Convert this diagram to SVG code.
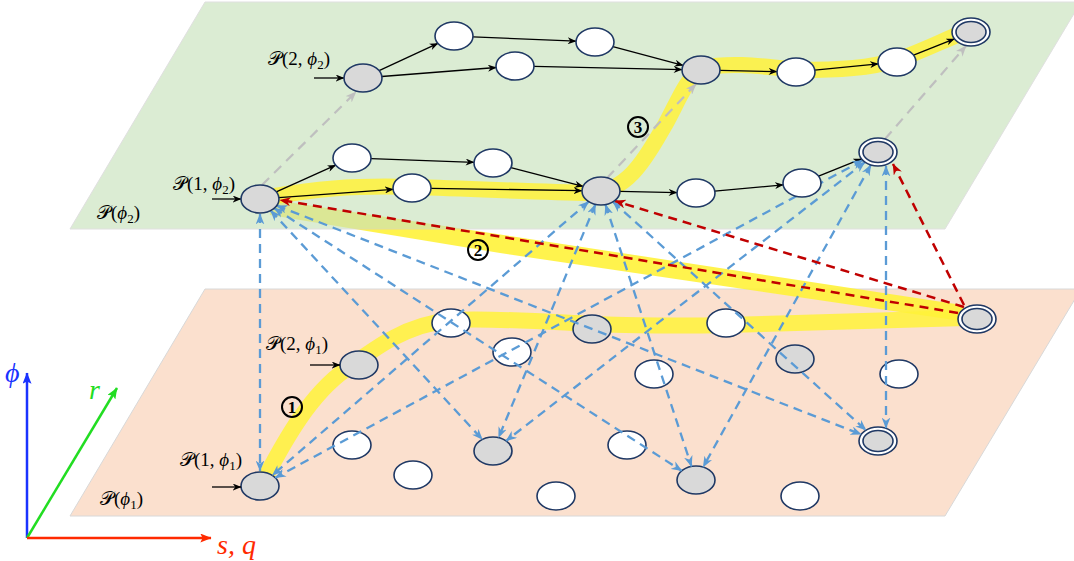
<svg xmlns="http://www.w3.org/2000/svg" width="1074" height="561" viewBox="0 0 1074 561">
<style>
.n{fill:#ffffff;stroke:#1f3864;stroke-width:1.6}
.g{fill:#d9d9d9;stroke:#1f3864;stroke-width:1.6}
.blk{stroke:#000;stroke-width:1.3;fill:none;marker-end:url(#ab)}
.blu{stroke:#5b9bd5;stroke-width:2.3;stroke-dasharray:9 6;fill:none;marker-start:url(#au);marker-end:url(#au)}
.red{stroke:#c00000;stroke-width:2.5;stroke-dasharray:9 6;fill:none;marker-end:url(#ar)}
.gry{stroke:#bfbfbf;stroke-width:2.2;stroke-dasharray:10 7;fill:none;marker-end:url(#ag)}
.hl{fill:none;stroke:#fff23a;stroke-width:16;stroke-linecap:round;stroke-linejoin:round;opacity:0.85}
.lb{font-family:"Liberation Serif","DejaVu Serif","DejaVu Sans",serif;font-size:19px;fill:#000}
.cc{fill:none;stroke:#000;stroke-width:2}
.cn{font-family:"Liberation Serif","DejaVu Serif",serif;font-size:17px;font-weight:bold;fill:#000}
.ax{font-family:"Liberation Serif","DejaVu Serif",serif;font-style:italic;font-size:28px}
</style>
<defs>
<marker id="ab" viewBox="0 0 10 8" refX="9.5" refY="4" markerWidth="9" markerHeight="7" markerUnits="userSpaceOnUse" orient="auto-start-reverse"><path d="M0,0 L10,4 L0,8 L3,4z" fill="#000"/></marker>
<marker id="au" viewBox="0 0 10 8" refX="9.5" refY="4" markerWidth="11" markerHeight="9" markerUnits="userSpaceOnUse" orient="auto-start-reverse"><path d="M0,0 L10,4 L0,8 L3,4z" fill="#5b9bd5"/></marker>
<marker id="ar" viewBox="0 0 10 8" refX="9.5" refY="4" markerWidth="12" markerHeight="9" markerUnits="userSpaceOnUse" orient="auto-start-reverse"><path d="M0,0 L10,4 L0,8 L3,4z" fill="#c00000"/></marker>
<marker id="ag" viewBox="0 0 10 8" refX="9.5" refY="4" markerWidth="11" markerHeight="9" markerUnits="userSpaceOnUse" orient="auto-start-reverse"><path d="M0,0 L10,4 L0,8 L3,4z" fill="#bfbfbf"/></marker>
<marker id="axb" viewBox="0 0 10 8" refX="9.5" refY="4" markerWidth="12" markerHeight="9" markerUnits="userSpaceOnUse" orient="auto"><path d="M0,0 L10,4 L0,8 L2,4z" fill="#1a33ff"/></marker>
<marker id="axg" viewBox="0 0 10 8" refX="9.5" refY="4" markerWidth="12" markerHeight="9" markerUnits="userSpaceOnUse" orient="auto"><path d="M0,0 L10,4 L0,8 L2,4z" fill="#22dd22"/></marker>
<marker id="axr" viewBox="0 0 10 8" refX="9.5" refY="4" markerWidth="12" markerHeight="9" markerUnits="userSpaceOnUse" orient="auto"><path d="M0,0 L10,4 L0,8 L2,4z" fill="#ff2a00"/></marker>
</defs>

<g id="plane-phi1">
<polygon points="205,289 1081,289 945,516 70,516" fill="#fbe0ce" stroke="#d8d8d8" stroke-width="1"/>
</g>

<g id="highlight-2">
<polygon points="268,199 962,305 968,322 500,253 270,215" fill="#fff23a" opacity="0.9"/>
</g>

<g id="plane-phi2">
<polygon points="205,2 1081,2 945,229 70,229" fill="#c9e2bc" opacity="0.65" stroke="#d0d0d0" stroke-width="1"/>
</g>

<g id="highlight-1">
<path class="hl" d="M265,478 C285,440 310,395 345,370 C375,348 405,325 450,320 C500,318 550,322 592,324 C650,326 690,326 726,325 C800,323 900,320 965,318"/>
</g>
<g id="highlight-3">
<path class="hl" d="M275,196 C310,190 350,185 413,187 C480,189 540,192 590,193 C630,193 650,150 665,125 C678,102 685,80 702,68 C730,62 760,66 798,70 C840,70 870,68 897,60 C920,52 940,42 962,33"/>
</g>

<g id="node-Q"><ellipse class="g" cx="260" cy="486" rx="19" ry="14"/></g>
<g id="node-R"><ellipse class="n" cx="352" cy="445" rx="19" ry="14"/></g>
<g id="node-S"><ellipse class="n" cx="413" cy="475" rx="19" ry="14"/></g>
<g id="node-T"><ellipse class="g" cx="493" cy="451" rx="19" ry="14"/></g>
<g id="node-U"><ellipse class="n" cx="556" cy="496" rx="19" ry="14"/></g>
<g id="node-V"><ellipse class="n" cx="627" cy="445" rx="19" ry="14"/></g>
<g id="node-W"><ellipse class="g" cx="696" cy="480" rx="19" ry="14"/></g>
<g id="node-X"><ellipse class="n" cx="800" cy="496" rx="19" ry="14"/></g>
<g id="node-Y"><ellipse class="n" cx="878" cy="441" rx="19" ry="14"/><ellipse class="g" cx="878" cy="441" rx="15" ry="10.5"/></g>
<g id="node-Z"><ellipse class="g" cx="359" cy="365" rx="19" ry="14"/></g>
<g id="node-AA"><ellipse class="n" cx="451" cy="323" rx="19" ry="14"/></g>
<g id="node-AB"><ellipse class="n" cx="512" cy="352" rx="19" ry="14"/></g>
<g id="node-AC"><ellipse class="g" cx="592" cy="329" rx="19" ry="14"/></g>
<g id="node-AD"><ellipse class="n" cx="726" cy="323" rx="19" ry="14"/></g>
<g id="node-AE"><ellipse class="g" cx="795" cy="359" rx="19" ry="14"/></g>
<g id="node-AF"><ellipse class="n" cx="654" cy="374" rx="19" ry="14"/></g>
<g id="node-AG"><ellipse class="n" cx="899" cy="374" rx="19" ry="14"/></g>
<g id="node-AH"><ellipse class="n" cx="977" cy="319" rx="19" ry="14"/><ellipse class="g" cx="977" cy="319" rx="15" ry="10.5"/></g>

<g id="connectors">
<line class="blk" x1="314" y1="78" x2="344" y2="78"/>
<line class="blk" x1="212" y1="199" x2="241" y2="199"/>
<line class="blk" x1="310" y1="365" x2="340" y2="365"/>
<line class="blk" x1="212" y1="487" x2="241" y2="487"/>
<line class="blk" x1="379.1" y1="70.6" x2="437.9" y2="43.4"/>
<line class="blk" x1="381.8" y1="76.5" x2="496.2" y2="67.5"/>
<line class="blk" x1="473" y1="36.8" x2="576" y2="41.2"/>
<line class="blk" x1="534" y1="66.4" x2="682" y2="69.6"/>
<line class="blk" x1="612.9" y1="46.7" x2="683.1" y2="65.3"/>
<line class="blk" x1="720" y1="70.4" x2="777" y2="71.6"/>
<line class="blk" x1="814.7" y1="70.2" x2="878.3" y2="63.8"/>
<line class="blk" x1="913.6" y1="55.2" x2="954.4" y2="38.8"/>
<line class="blk" x1="276.3" y1="191.8" x2="335.7" y2="165.2"/>
<line class="blk" x1="278.8" y1="197.6" x2="393.2" y2="189.4"/>
<line class="blk" x1="371" y1="158.7" x2="474" y2="162.3"/>
<line class="blk" x1="431" y1="188.3" x2="582" y2="190.7"/>
<line class="blk" x1="510.9" y1="167.6" x2="583.1" y2="186.4"/>
<line class="blk" x1="620" y1="191.4" x2="677" y2="192.6"/>
<line class="blk" x1="714.7" y1="191.2" x2="783.3" y2="184.8"/>
<line class="blk" x1="818.6" y1="176.2" x2="861.4" y2="158.8"/>
<line class="gry" x1="262" y1="185" x2="356" y2="92"/>
<line class="gry" x1="607" y1="178" x2="696" y2="84"/>
<line class="gry" x1="885" y1="139" x2="966" y2="46"/>
<line class="blu" x1="260" y1="214" x2="260" y2="471"/>
<line class="blu" x1="270.7" y1="210.6" x2="482.3" y2="439.4"/>
<line class="blu" x1="274.3" y1="208.2" x2="681.7" y2="470.8"/>
<line class="blu" x1="276.8" y1="205.6" x2="861.2" y2="434.4"/>
<line class="blu" x1="588.7" y1="201.7" x2="272.3" y2="475.3"/>
<line class="blu" x1="595.4" y1="204.4" x2="498.6" y2="437.6"/>
<line class="blu" x1="605.5" y1="204.6" x2="691.5" y2="466.4"/>
<line class="blu" x1="613" y1="201.8" x2="866" y2="430.2"/>
<line class="blu" x1="862.7" y1="160.3" x2="275.3" y2="477.7"/>
<line class="blu" x1="864.9" y1="162.2" x2="506.1" y2="440.8"/>
<line class="blu" x1="870.8" y1="165" x2="703.2" y2="467"/>
<line class="blu" x1="886" y1="166" x2="886" y2="428"/>
<line class="red" x1="958" y1="313" x2="280" y2="200"/>
<line class="red" x1="964" y1="307" x2="615" y2="201"/>
<line class="red" x1="964" y1="305" x2="893" y2="164"/>
</g>

<g id="node-A"><ellipse class="g" cx="363" cy="78" rx="19" ry="14"/></g>
<g id="node-B"><ellipse class="n" cx="454" cy="36" rx="19" ry="14"/></g>
<g id="node-C"><ellipse class="n" cx="515" cy="66" rx="19" ry="14"/></g>
<g id="node-D"><ellipse class="n" cx="595" cy="42" rx="19" ry="14"/></g>
<g id="node-E"><ellipse class="g" cx="701" cy="70" rx="19" ry="14"/></g>
<g id="node-F"><ellipse class="n" cx="796" cy="72" rx="19" ry="14"/></g>
<g id="node-G"><ellipse class="n" cx="897" cy="62" rx="19" ry="14"/></g>
<g id="node-H"><ellipse class="n" cx="971" cy="32" rx="19" ry="14"/><ellipse class="g" cx="971" cy="32" rx="15" ry="10.5"/></g>
<g id="node-I"><ellipse class="g" cx="260" cy="199" rx="19" ry="14"/></g>
<g id="node-J"><ellipse class="n" cx="352" cy="158" rx="19" ry="14"/></g>
<g id="node-K"><ellipse class="n" cx="412" cy="188" rx="19" ry="14"/></g>
<g id="node-L"><ellipse class="n" cx="493" cy="163" rx="19" ry="14"/></g>
<g id="node-M"><ellipse class="g" cx="601" cy="191" rx="19" ry="14"/></g>
<g id="node-N"><ellipse class="n" cx="696" cy="193" rx="19" ry="14"/></g>
<g id="node-O"><ellipse class="n" cx="802" cy="183" rx="19" ry="14"/></g>
<g id="node-P"><ellipse class="n" cx="878" cy="152" rx="19" ry="14"/><ellipse class="g" cx="878" cy="152" rx="15" ry="10.5"/></g>

<g id="labels">
<text class="lb" x="268" y="65">𝒫(2, <tspan font-style="italic">ϕ</tspan><tspan font-size="13" dy="4">2</tspan><tspan dy="-4">)</tspan></text>
<text class="lb" x="173" y="190">𝒫(1, <tspan font-style="italic">ϕ</tspan><tspan font-size="13" dy="4">2</tspan><tspan dy="-4">)</tspan></text>
<text class="lb" x="97" y="219">𝒫(<tspan font-style="italic">ϕ</tspan><tspan font-size="13" dy="4">2</tspan><tspan dy="-4">)</tspan></text>
<text class="lb" x="266" y="350">𝒫(2, <tspan font-style="italic">ϕ</tspan><tspan font-size="13" dy="4">1</tspan><tspan dy="-4">)</tspan></text>
<text class="lb" x="180" y="466">𝒫(1, <tspan font-style="italic">ϕ</tspan><tspan font-size="13" dy="4">1</tspan><tspan dy="-4">)</tspan></text>
<text class="lb" x="100" y="505">𝒫(<tspan font-style="italic">ϕ</tspan><tspan font-size="13" dy="4">1</tspan><tspan dy="-4">)</tspan></text>
</g>
<g id="step-1"><circle class="cc" cx="292" cy="407" r="10"/><text class="cn" x="292" y="413" text-anchor="middle">1</text></g>
<g id="step-2"><circle class="cc" cx="478" cy="250" r="10"/><text class="cn" x="478" y="256" text-anchor="middle">2</text></g>
<g id="step-3"><circle class="cc" cx="638" cy="127" r="10"/><text class="cn" x="638" y="133" text-anchor="middle">3</text></g>

<g id="axes">
<line x1="27" y1="538" x2="27" y2="373" stroke="#1a33ff" stroke-width="2.5" marker-end="url(#axb)"/>
<line x1="27" y1="538" x2="117" y2="388" stroke="#22dd22" stroke-width="2.5" marker-end="url(#axg)"/>
<line x1="27" y1="538" x2="211" y2="538" stroke="#ff2a00" stroke-width="2.5" marker-end="url(#axr)"/>
<text class="ax" x="5" y="382" fill="#1a33ff">ϕ</text>
<text class="ax" x="89" y="399" fill="#22dd22">r</text>
<text class="ax" x="217" y="554" fill="#ff2a00">s, q</text>
</g>
</svg>
